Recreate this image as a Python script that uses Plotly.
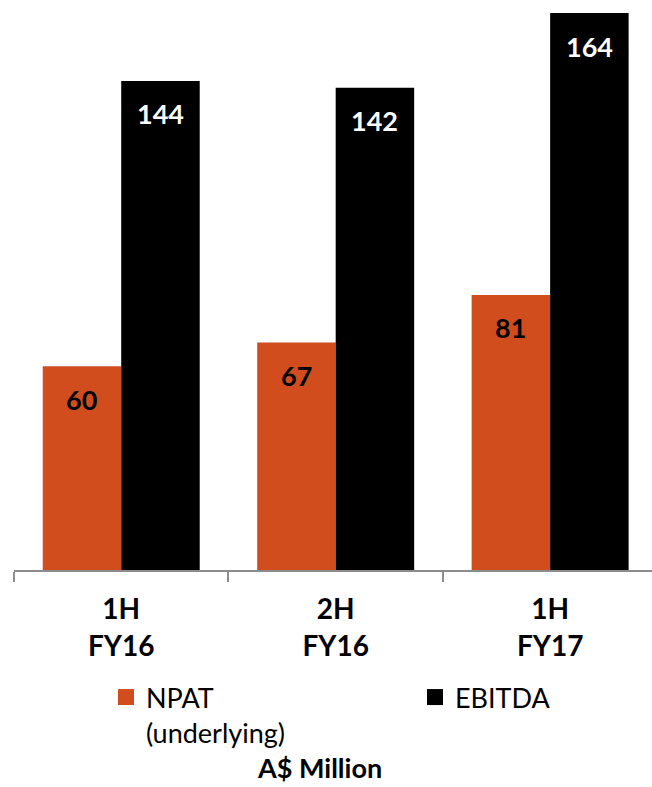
import plotly.graph_objects as go

categories = ["1H<br>FY16", "2H<br>FY16", "1H<br>FY17"]
npat = [60, 67, 81]
ebitda = [144, 142, 164]
series_names = ["NPAT<br>(underlying)", "EBITDA"]
colors = ["#D14D1E", "#000000"]
label_colors = ["#000000", "#FFFFFF"]
unit_label = "A$ Million"

FONT = "Lato"
W, H = 652, 787
ML, MT, MB = 14, 0, 217
PW, PH = W - ML, H - MT - MB


def px_x(x):
    return (x - ML) / PW


def px_y(y):
    return (PH - (y - MT)) / PH


fig = go.Figure()
legends = ["legend", "legend2"]
for name, vals, col, lg in zip(series_names, [npat, ebitda], colors, legends):
    fig.add_trace(go.Bar(x=categories, y=vals, name=name, marker_color=col,
                         marker_line_width=0, showlegend=False, legendgroup=name))
    # legend key with a larger square swatch
    fig.add_trace(go.Scatter(x=[None], y=[None], mode="markers", name=name,
                             legendgroup=name, legend=lg, showlegend=True,
                             marker=dict(symbol="square", size=17, color=col)))

# value labels inside bars near the top
bargap = 0.268
bw = (1 - bargap) / 2
for k, (vals, lc) in enumerate(zip([npat, ebitda], label_colors)):
    off = (k - 0.5) * bw
    for i, v in enumerate(vals):
        fig.add_annotation(x=i + off, y=v, xref="x", yref="y", text=str(v),
                           showarrow=False, yanchor="middle", yshift=-33,
                           font=dict(family=FONT, size=27, color=lc, weight="bold"))

fig.add_annotation(x=px_x(319), y=px_y(786), xref="paper", yref="paper", text=unit_label,
                   showarrow=False, xanchor="center", yanchor="bottom",
                   font=dict(family=FONT, size=27, color="#000000", weight="bold"))

legfont = dict(family=FONT, size=27, color="#000000")
fig.update_layout(
    width=W, height=H,
    margin=dict(l=ML, r=0, t=MT, b=MB),
    paper_bgcolor="white", plot_bgcolor="white",
    barmode="group", bargap=bargap, bargroupgap=0,
    showlegend=True,
    legend=dict(x=px_x(106), y=px_y(673), xanchor="left", yanchor="top",
                font=legfont, valign="top", bgcolor="rgba(0,0,0,0)", itemsizing="trace"),
    legend2=dict(x=px_x(415), y=px_y(673), xanchor="left", yanchor="top",
                 font=legfont, valign="top", bgcolor="rgba(0,0,0,0)", itemsizing="trace"),
    xaxis=dict(type="category", range=[-0.5, 2.475], showline=True, linecolor="#8C8C8C",
               linewidth=1.5, ticks="outside", tickson="boundaries", ticklen=10,
               tickcolor="#8C8C8C", tickwidth=1.5, showgrid=False, ticklabelstandoff=14,
               tickfont=dict(family=FONT, size=28, color="#000000", weight="bold")),
    yaxis=dict(range=[0, PH / 3.396], visible=False, showgrid=False, fixedrange=True),
)
fig.write_html("out.html")
